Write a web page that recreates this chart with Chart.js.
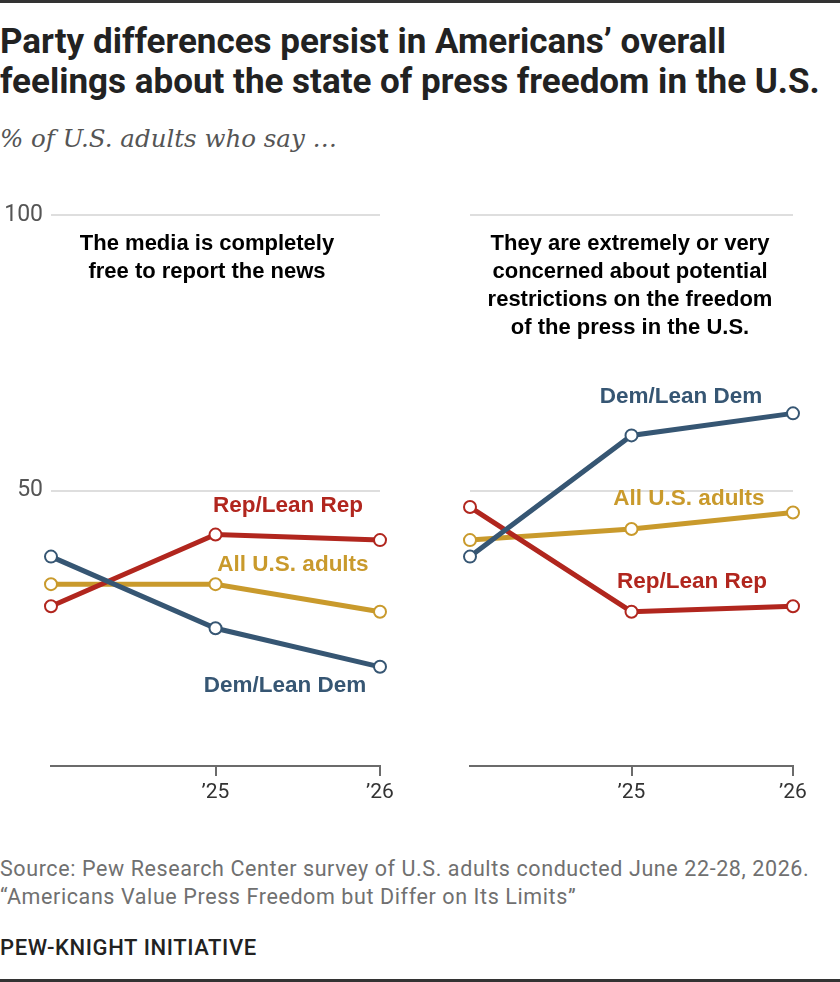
<!DOCTYPE html>
<html>
<head>
<meta charset="utf-8">
<script src="https://cdn.jsdelivr.net/npm/chart.js@4"></script>
<style>
  body { margin: 0; background: #fff; }
  #page { position: relative; width: 840px; height: 982px; overflow: hidden; font-family: Roboto, "Liberation Sans", sans-serif; }
  .abs { position: absolute; }
  .topline { left: 0; top: 0; width: 840px; height: 3px; background: #333; }
  .bottomline { left: 0; top: 979px; width: 840px; height: 3px; background: #333; }
  .title { left: 0; top: 22px; font-size: 35px; line-height: 40px; font-weight: 700; color: #222; }
  .subtitle { left: 0; top: 123px; font-family: "DejaVu Serif", serif; font-style: italic; font-size: 24.5px; line-height: 32px; color: #555; }
  .head { font-family: "Liberation Sans", Arial, sans-serif; font-weight: 700; font-size: 22px; line-height: 28px; color: #000; text-align: center; transform: translate(-50%, 0); white-space: nowrap; }
  .lab { font-family: "Liberation Sans", Arial, sans-serif; font-weight: 700; font-size: 22.5px; line-height: 26px; text-align: center; transform: translate(-50%, -50%); white-space: nowrap; }
  .source { left: 0; top: 855px; font-size: 21.5px; letter-spacing: 0.6px; line-height: 28px; color: #707070; }
  .brand { left: 0; top: 935px; font-size: 22px; letter-spacing: 0.6px; line-height: 26px; color: #222; font-weight: 500; }
  .panel { position: absolute; }
</style>
</head>
<body>
<div id="page">
  <div class="abs topline"></div>
  <div class="abs title">Party differences persist in Americans’ overall<br>feelings about the state of press freedom in the U.S.</div>
  <div class="abs subtitle">% of U.S. adults who say …</div>

  <div class="panel" id="leftBox" style="left:0; top:190px; width:400px; height:620px;"><canvas id="leftChart"></canvas></div>
  <div class="panel" id="rightBox" style="left:450px; top:190px; width:363px; height:620px;"><canvas id="rightChart"></canvas></div>

  <div class="abs head" style="left:207px; top:229px;">The media is completely<br>free to report the news</div>
  <div class="abs head" style="left:630px; top:229px;">They are extremely or very<br>concerned about potential<br>restrictions on the freedom<br>of the press in the U.S.</div>

  <div class="abs lab" style="left:288px; top:505px; color:#B1261E;">Rep/Lean Rep</div>
  <div class="abs lab" style="left:293px; top:564px; color:#C99A2C;">All U.S. adults</div>
  <div class="abs lab" style="left:285px; top:685px; color:#365673;">Dem/Lean Dem</div>
  <div class="abs lab" style="left:681px; top:396px; color:#365673;">Dem/Lean Dem</div>
  <div class="abs lab" style="left:689px; top:498px; color:#C99A2C;">All U.S. adults</div>
  <div class="abs lab" style="left:692px; top:581px; color:#B1261E;">Rep/Lean Rep</div>

  <div class="abs source">Source: Pew Research Center survey of U.S. adults conducted June 22-28, 2026.<br>“Americans Value Press Freedom but Differ on Its Limits”</div>
  <div class="abs brand">PEW-KNIGHT INITIATIVE</div>
  <div class="abs bottomline"></div>
</div>

<script>
// x categories: first survey point has no label in the original
var years = ['', '\u201925', '\u201926'];

// The media is completely free to report the news
var mediaFreeDem = [38, 25, 18];
var mediaFreeRep = [29, 42, 41];
var mediaFreeAll = [33, 33, 28];

// Extremely/very concerned about restrictions on press freedom
var concernDem = [38, 60, 64];
var concernRep = [47, 28, 29];
var concernAll = [41, 43, 46];

var yTicks = [0, 50, 100];

var demColor = '#365673';
var repColor = '#B1261E';
var allColor = '#C99A2C';

Chart.defaults.font.family = 'Roboto, "Liberation Sans", sans-serif';
Chart.defaults.animation = false;

function series(values, color) {
    return {
        data: values,
        borderColor: color,
        borderWidth: 5,
        pointRadius: 6,
        pointHoverRadius: 6,
        pointBorderWidth: 2,
        pointBackgroundColor: '#fff',
        pointBorderColor: color,
        tension: 0,
        clip: false
    };
}

function makeChart(canvasId, dem, rep, all, showYLabels, yAxisWidth) {
    var ctx = document.getElementById(canvasId);
    return new Chart(ctx, {
        type: 'line',
        data: {
            labels: years,
            // first dataset is drawn on top
            datasets: [series(dem, demColor), series(rep, repColor), series(all, allColor)]
        },
        options: {
            responsive: true,
            maintainAspectRatio: false,
            layout: { padding: { top: 25, right: 20, left: 0, bottom: 0 } },
            plugins: { legend: { display: false }, tooltip: { enabled: false } },
            scales: {
                x: {
                    offset: false,
                    border: { display: true, color: '#6b6b6b', width: 2 },
                    grid: {
                        drawOnChartArea: false,
                        drawTicks: true,
                        tickLength: 10,
                        lineWidth: 2,
                        color: function (c) { return c.index === 0 ? 'rgba(0,0,0,0)' : '#6b6b6b'; }
                    },
                    ticks: { color: '#333', font: { size: 21 }, padding: 4, maxRotation: 0 },
                    afterFit: function (scale) { scale.height = 44; }
                },
                y: {
                    min: 0,
                    max: 100,
                    afterBuildTicks: function (scale) {
                        scale.ticks = yTicks.map(function (v) { return { value: v }; });
                    },
                    border: { display: false },
                    grid: {
                        drawTicks: false,
                        lineWidth: 2,
                        color: function (c) { return c.tick && c.tick.value === 0 ? 'rgba(0,0,0,0)' : '#dedede'; }
                    },
                    ticks: {
                        display: showYLabels,
                        color: '#555',
                        font: { size: 23 },
                        padding: 8,
                        callback: function (v) { return v === 0 ? '' : v; }
                    },
                    afterFit: function (scale) { scale.width = yAxisWidth; }
                }
            }
        }
    });
}

makeChart('leftChart', mediaFreeDem, mediaFreeRep, mediaFreeAll, true, 51);
makeChart('rightChart', concernDem, concernRep, concernAll, false, 20);
</script>
</body>
</html>
